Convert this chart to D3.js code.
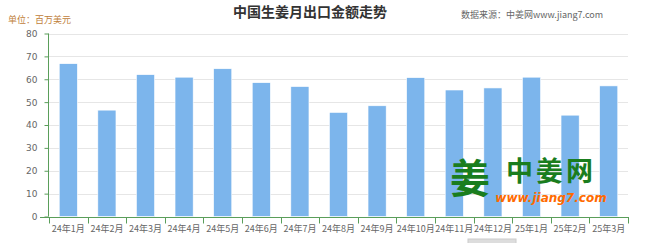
<!DOCTYPE html>
<html><head><meta charset="utf-8">
<script src="https://cdn.jsdelivr.net/npm/d3@7"></script>
<style>body{margin:0;background:#fff;}svg{display:block;font-family:"Noto Sans CJK SC","Noto Sans",sans-serif;}</style>
</head><body>
<script>
const categories = ["24年1月","24年2月","24年3月","24年4月","24年5月","24年6月","24年7月","24年8月","24年9月","24年10月","24年11月","24年12月","25年1月","25年2月","25年3月"];
const values = [66.8,46.5,62.0,60.9,64.6,58.5,56.8,45.5,48.4,60.7,55.3,56.2,60.9,44.3,57.1];
const yTicks = [0,10,20,30,40,50,60,70,80];
const titleText = "中国生姜月出口金额走势";
const sourceText = "数据来源：中姜网www.jiang7.com";
const unitText = "单位：百万美元";

const W = 650, H = 243;
const svg = d3.select("body").append("svg").attr("width", W).attr("height", H);
const x = d3.scaleBand().domain(categories).range([49, 628]).paddingInner(0.53).paddingOuter(0.265);
const xb = d3.scaleBand().domain(categories).range([49, 628]);
const y = d3.scaleLinear().domain([0, 80]).range([216.5, 33.5]);

// gridlines
svg.append("g").selectAll("line").data(yTicks.filter(d => d > 0)).join("line")
  .attr("x1", 49).attr("x2", 628)
  .attr("y1", d => Math.round(y(d)) + 0.5).attr("y2", d => Math.round(y(d)) + 0.5)
  .attr("stroke", "#e6e6e6").attr("stroke-width", 1);

// bars
svg.append("g").selectAll("rect").data(values).join("rect")
  .attr("x", (d, i) => x(categories[i]))
  .attr("width", x.bandwidth())
  .attr("y", d => y(d))
  .attr("height", d => y(0) - y(d))
  .attr("fill", "#7cb5ec").attr("stroke", "#ffffff").attr("stroke-width", 0.6);

// watermark logo
const logo = svg.append("g");
logo.append("text").attr("x", 470).attr("y", 193).attr("text-anchor", "middle")
  .attr("font-size", 40).attr("font-weight", "bold").attr("fill", "#1a7d1e").text("姜");
logo.append("text").attr("x", 551).attr("y", 181).attr("text-anchor", "middle")
  .attr("font-size", 27).attr("font-weight", "bold").attr("fill", "#1a7d1e").attr("letter-spacing", 3).text("中姜网");
logo.append("text").attr("x", 551).attr("y", 202).attr("text-anchor", "middle")
  .attr("font-size", 12).attr("font-weight", "bold").attr("font-style", "italic").attr("fill", "#ff6a00")
  .attr("font-family", "DejaVu Sans, sans-serif").text("www.jiang7.com");

// y axis
const yAxis = svg.append("g").attr("transform", "translate(48.5,0)")
  .call(d3.axisLeft(y).tickValues(yTicks).tickSize(4).tickPadding(4));
yAxis.select(".domain").attr("stroke", "#5a9e5a").attr("d", `M0,${y(80)}V${y(0)}`);
yAxis.selectAll(".tick line").attr("stroke", "#5a9e5a");
yAxis.selectAll(".tick text").attr("fill", "#666").attr("font-size", 9).attr("dx", -3)
  .attr("font-family", "DejaVu Sans, sans-serif");

// x axis
const xAxis = svg.append("g").attr("transform", `translate(0,${Math.round(y(0)) + 0.5})`);
xAxis.append("line").attr("x1", 40).attr("x2", 629).attr("stroke", "#5a9e5a");
xAxis.selectAll("line.t").data(categories.concat(["end"])).join("line").attr("class", "t")
  .attr("x1", (d, i) => Math.round(49 + i * xb.step()) + 0.5)
  .attr("x2", (d, i) => Math.round(49 + i * xb.step()) + 0.5)
  .attr("y1", 0).attr("y2", 6).attr("stroke", "#5a9e5a");
xAxis.selectAll("text").data(categories).join("text")
  .attr("x", d => xb(d) + xb.bandwidth() / 2).attr("y", 14)
  .attr("text-anchor", "middle").attr("fill", "#666").attr("font-size", 9).text(d => d);

// titles
svg.append("text").attr("x", 310).attr("y", 17).attr("text-anchor", "middle")
  .attr("font-size", 14).attr("font-weight", "bold").attr("fill", "#333").text(titleText);
svg.append("text").attr("x", 461).attr("y", 18).attr("font-size", 9).attr("fill", "#666").text(sourceText);
svg.append("text").attr("x", 8).attr("y", 23).attr("font-size", 9).attr("fill", "#c0803a").text(unitText);

// bottom scrollbar hint
svg.append("rect").attr("x", 468).attr("y", 239).attr("width", 48).attr("height", 6).attr("fill", "#ddd").attr("stroke", "#ccc");
</script>
</body></html>
